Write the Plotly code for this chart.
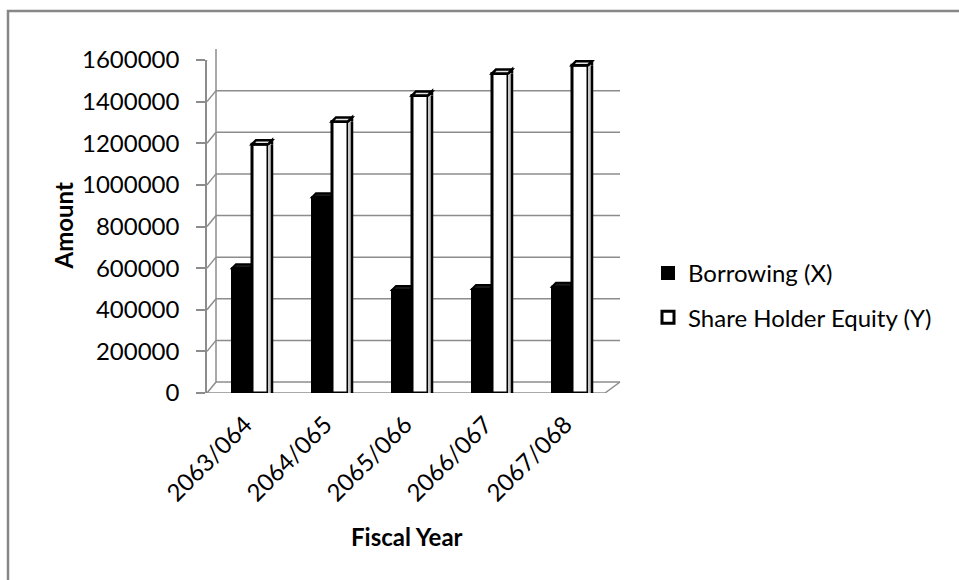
import plotly.graph_objects as go

# ---- data -------------------------------------------------------------
fiscal_years = ["2063/064", "2064/065", "2065/066", "2066/067", "2067/068"]
borrowing = [600000, 940000, 495000, 500000, 510000]
equity = [1195000, 1305000, 1430000, 1535000, 1575000]
y_ticks = [0, 200000, 400000, 600000, 800000, 1000000, 1200000, 1400000, 1600000]

# ---- layout constants --------------------------------------------------
W, H = 959, 580
ML, MR, MT, MB = 207, 352, 60, 187
PW, PH = W - ML - MR, H - MT - MB
X_RANGE = [-0.55, 4.45]
PX_PER_UNIT = PW / (X_RANGE[1] - X_RANGE[0])

GRID = "#8c8c8c"
FONT = "Lato"
FS = 24

# bar geometry (data units along x)
B_OFF, B_W = -0.2375, 0.225
S_OFF, S_W = 0.0125, 0.2
DEPTH = 4          # bar depth in px
WALL_DX, WALL_DY = 9, 11
FLOOR_RIGHT = 398  # front floor length in px
WALL_RIGHT = 413

fig = go.Figure()
fig.add_trace(go.Bar(
    x=list(range(len(fiscal_years))), y=borrowing, name="Borrowing (X)",
    offset=B_OFF, width=B_W,
    marker=dict(color="black", line=dict(color="black", width=2)),
    legendgroup="a",
))
fig.add_trace(go.Bar(
    x=list(range(len(fiscal_years))), y=equity, name="Share Holder Equity (Y)",
    offset=S_OFF, width=S_W,
    marker=dict(color="white", line=dict(color="black", width=3)),
    legendgroup="b",
))

shapes = []

def wall_line(x0, x1, yv, y0, y1, **kw):
    shapes.append(dict(
        type="line", xref="x domain", xsizemode="pixel", xanchor=0, x0=x0, x1=x1,
        yref="y", ysizemode="pixel", yanchor=yv, y0=y0, y1=y1,
        line=dict(color=GRID, width=1.5), layer="below", **kw))

# back wall gridlines and their links to the front axis
for v in y_ticks:
    wall_line(0, WALL_DX, v, 0, WALL_DY)
    wall_line(WALL_DX, WALL_RIGHT, v, WALL_DY, WALL_DY)
# floor
wall_line(0, FLOOR_RIGHT, 0, 0, 0)
wall_line(FLOOR_RIGHT, WALL_RIGHT, 0, 0, WALL_DY)
# back wall left edge
shapes.append(dict(
    type="line", xref="x domain", xsizemode="pixel", xanchor=0, x0=WALL_DX, x1=WALL_DX,
    yref="y domain", ysizemode="pixel", yanchor=0, y0=WALL_DY, y1=WALL_DY + PH,
    line=dict(color=GRID, width=1.5), layer="below"))

bw_px = B_W * PX_PER_UNIT
sw_px = S_W * PX_PER_UNIT
for i, (b, s) in enumerate(zip(borrowing, equity)):
    # top face of the dark column (behind the light column)
    shapes.append(dict(
        type="path", xref="x", xsizemode="pixel", xanchor=i + B_OFF,
        yref="y", ysizemode="pixel", yanchor=b,
        path=f"M0,0 L{bw_px},0 L{bw_px + DEPTH},{DEPTH} L{DEPTH},{DEPTH} Z",
        fillcolor="#1a1a1a", line=dict(color="black", width=2), layer="below"))
    # side face of the light column
    shapes.append(dict(
        type="rect", xref="x", xsizemode="pixel", xanchor=i + S_OFF + S_W,
        x0=0, x1=DEPTH, yref="y", y0=0, y1=s,
        fillcolor="#c8c8c8", line=dict(width=0), layer="above"))
    shapes.append(dict(
        type="line", xref="x", xsizemode="pixel", xanchor=i + S_OFF + S_W,
        x0=DEPTH, x1=DEPTH, yref="y", y0=0, y1=s,
        line=dict(color="black", width=2.5), layer="above"))
    shapes.append(dict(
        type="path", xref="x", xsizemode="pixel", xanchor=i + S_OFF,
        yref="y", ysizemode="pixel", yanchor=s,
        path=f"M{sw_px},0 L{sw_px + DEPTH},{DEPTH} L{sw_px + DEPTH},0",
        fillcolor="#c8c8c8", line=dict(color="black", width=2.5), layer="above"))
    # top face of the light column
    shapes.append(dict(
        type="path", xref="x", xsizemode="pixel", xanchor=i + S_OFF,
        yref="y", ysizemode="pixel", yanchor=s,
        path=f"M0,0 L{sw_px},0 L{sw_px + DEPTH},{DEPTH} L{DEPTH},{DEPTH} Z",
        fillcolor="#e6e6e6", line=dict(color="black", width=2.5), layer="above"))

# chart frame (top and left edges)
fx0 = (8 - ML) / PW
fy_top = (H - MB - 11) / PH
fy_bot = (H - MB - H) / PH
fx1 = (W - ML) / PW
shapes.append(dict(type="path", xref="paper", yref="paper",
                   path=f"M{fx0},{fy_bot} L{fx0},{fy_top} L{fx1},{fy_top}",
                   line=dict(color="#878787", width=2.5)))

fig.update_layout(
    width=W, height=H,
    margin=dict(l=ML, r=MR, t=MT, b=MB, autoexpand=False),
    paper_bgcolor="white", plot_bgcolor="rgba(0,0,0,0)",
    font=dict(family=FONT, size=FS, color="black"),
    barmode="overlay",
    showlegend=True,
    legend=dict(
        xref="container", yref="container",
        x=648 / W, y=1 - 251 / H, xanchor="left", yanchor="top",
        font=dict(family=FONT, size=FS), tracegroupgap=10,
        traceorder="grouped", bgcolor="rgba(0,0,0,0)",
    ),
    xaxis=dict(
        range=X_RANGE, tickmode="array", tickvals=list(range(len(fiscal_years))),
        ticktext=fiscal_years, tickangle=-45, showgrid=False, zeroline=False,
        showline=False, ticks="", ticklabelstandoff=12, ticklabelshift=-6,
        tickfont=dict(family=FONT, size=FS),
    ),
    yaxis=dict(
        range=[0, 1600000], tickmode="array", tickvals=y_ticks,
        ticktext=[str(v) for v in y_ticks], showgrid=False, zeroline=False,
        showline=True, linecolor=GRID, linewidth=1.5,
        ticks="outside", ticklen=9, tickcolor=GRID, tickwidth=1.5,
        ticklabelstandoff=12,
        tickfont=dict(family=FONT, size=FS),
    ),
    shapes=shapes,
    annotations=[
        dict(text="<b>Fiscal Year</b>", xref="paper", yref="paper",
             x=0.5, y=(H - MB - 536) / PH, xanchor="center", yanchor="middle",
             showarrow=False, font=dict(family=FONT, size=FS)),
        dict(text="<b>Amount</b>", xref="paper", yref="paper",
             x=(63 - ML) / PW, y=0.5, xanchor="center", yanchor="middle",
             textangle=-90, showarrow=False, font=dict(family=FONT, size=FS)),
    ],
)

fig.write_html("out.html")
